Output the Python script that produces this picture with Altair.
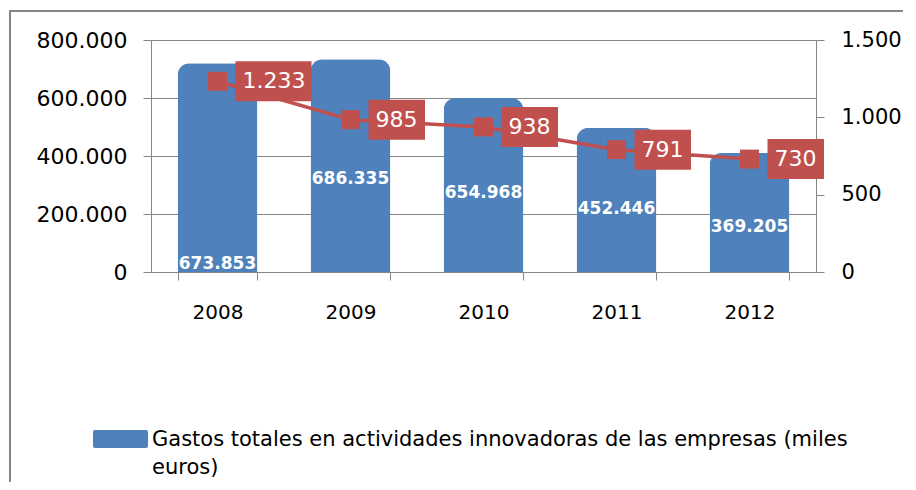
import altair as alt
import pandas as pd

# ---- data ----
years = ["2008", "2009", "2010", "2011", "2012"]
bar_height = [720000, 734000, 600000, 497000, 410000]          # drawn bar heights (left axis)
bar_labels = ["673.853", "686.335", "654.968", "452.446", "369.205"]
bar_label_anchor = [28000, 320000, 272000, 217000, 155000]     # where each bar label sits (left axis units)
line_values = [1233, 985, 938, 791, 730]                        # right axis
legend_text = "Gastos totales en actividades innovadoras de las empresas (miles\neuros)"

BLUE = "#4F81BD"
RED = "#C0504D"
GRAY = "#868686"
FONT = "DejaVu Sans"


def fmt(v):
    return f"{v:,}".replace(",", ".")


def box_path(label):
    digits = sum(c.isdigit() for c in label)
    dots = len(label) - digits
    width_px = digits * 13.5 + dots * 6 + 16
    right = (18 + width_px) / 20.0
    return f"M0.9,-1H{right:.3f}V1H0.9Z"


df = pd.DataFrame({
    "year": years,
    "bar": bar_height,
    "bar_label": bar_labels,
    "anchor": bar_label_anchor,
    "line": line_values,
})
df["line_label"] = [fmt(v) for v in line_values]
df["box"] = [box_path(fmt(v)) for v in line_values]

x_axis = alt.Axis(
    tickBand="extent", tickSize=8, tickColor=GRAY, domainColor=GRAY,
    labelFontSize=20, labelFont=FONT, labelColor="#000000",
    labelPadding=22, labelAngle=0, grid=False,
)
x_enc = alt.X(
    "year:N", title=None,
    scale=alt.Scale(paddingInner=0.4, paddingOuter=0.2),
    axis=x_axis,
)

left_scale = alt.Scale(domain=[0, 800000], nice=False)
right_scale = alt.Scale(domain=[0, 1500], nice=False)

left_axis = alt.Axis(
    orient="left", values=[0, 200000, 400000, 600000, 800000],
    labelExpr="replace(format(datum.value, ','), ',', '.')",
    labelFontSize=22, labelFont=FONT, labelColor="#000000",
    tickSize=8, tickColor=GRAY, domainColor=GRAY, labelPadding=16,
    grid=True, gridColor=GRAY, gridWidth=1,
)
right_axis = alt.Axis(
    orient="right", values=[0, 500, 1000, 1500],
    labelExpr="replace(format(datum.value, ','), ',', '.')",
    labelFontSize=21, labelFont=FONT, labelColor="#000000",
    tickSize=8, tickColor=GRAY, domainColor=GRAY, labelPadding=17,
    grid=False,
)

base = alt.Chart(df)

bars = base.mark_bar(
    color=BLUE, cornerRadiusTopLeft=12, cornerRadiusTopRight=12
).encode(
    x=x_enc,
    y=alt.Y("bar:Q", title=None, scale=left_scale, axis=left_axis),
)

bar_text = base.mark_text(
    color="white", fontWeight="bold", fontSize=17, font=FONT, baseline="middle"
).encode(
    x=x_enc,
    y=alt.Y("anchor:Q", title=None, scale=left_scale, axis=left_axis),
    text="bar_label:N",
)

left_layer = alt.layer(bars, bar_text)

line = base.mark_line(color=RED, strokeWidth=3.5).encode(
    x=x_enc,
    y=alt.Y("line:Q", title=None, scale=right_scale, axis=right_axis),
)

markers = base.mark_point(
    shape="square", filled=True, color=RED, opacity=1, size=361
).encode(
    x=x_enc,
    y=alt.Y("line:Q", title=None, scale=right_scale, axis=right_axis),
)

boxes = base.mark_point(filled=True, color=RED, opacity=1, size=1600).encode(
    x=x_enc,
    y=alt.Y("line:Q", title=None, scale=right_scale, axis=right_axis),
    shape=alt.Shape("box:N", scale=None, legend=None),
)

box_text = base.mark_text(
    color="white", fontSize=22, font=FONT, align="left", baseline="middle", dx=25
).encode(
    x=x_enc,
    y=alt.Y("line:Q", title=None, scale=right_scale, axis=right_axis),
    text="line_label:N",
)

right_layer = alt.layer(line, markers, boxes, box_text)

deco_data = alt.Data(values=[{"k": 1}])

border_top = alt.Chart(deco_data).mark_rule(color=GRAY, strokeWidth=2).encode(
    x=alt.value(-142), x2=alt.value(780),
    y=alt.value(-29),
)
border_left = alt.Chart(deco_data).mark_rule(color=GRAY, strokeWidth=2).encode(
    x=alt.value(-141),
    y=alt.value(-30), y2=alt.value(500),
)

legend_swatch = alt.Chart(deco_data).mark_rect(
    color=BLUE, cornerRadius=2
).encode(
    x=alt.value(-58), x2=alt.value(-3),
    y=alt.value(390), y2=alt.value(408),
)

legend_label = alt.Chart(deco_data).mark_text(
    align="left", baseline="alphabetic", fontSize=21, font=FONT,
    color="#000000", lineBreak="\n", lineHeight=28,
).encode(
    x=alt.value(1), y=alt.value(406), text=alt.value(legend_text),
)

chart = alt.layer(
    border_top, border_left, left_layer, right_layer, legend_swatch, legend_label
).resolve_scale(
    y="independent"
).properties(
    width=665, height=232,
    autosize="none",
    padding={"left": 143, "top": 32, "right": 87, "bottom": 210},
    background="white",
).configure_view(stroke=None)

chart.save("out.html", embed_options={"renderer": "svg", "actions": False})
